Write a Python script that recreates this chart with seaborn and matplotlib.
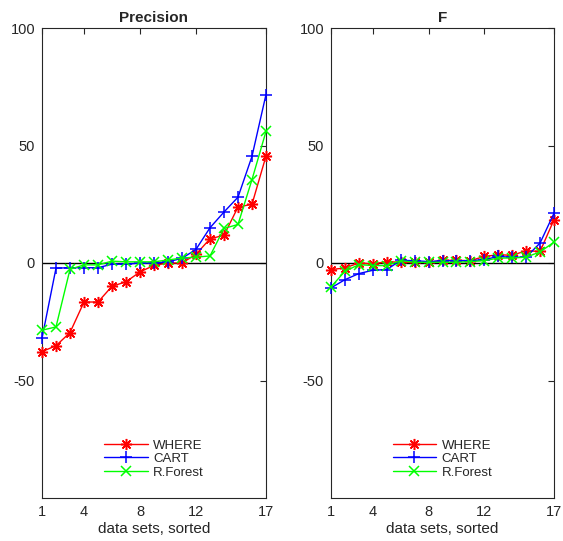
import numpy as np
import pandas as pd
import matplotlib
matplotlib.use("Agg")
import matplotlib.pyplot as plt
import seaborn as sns

datasets = list(range(1, 18))
xticks = [1, 4, 8, 12, 17]
yticks = [-50, 0, 50, 100]
learners = ["WHERE", "CART", "R.Forest"]

prec_where = [-37.7, -35.2, -29.6, -16.6, -16.6, -9.9, -8.0, -3.8, -1.0, 0.0, 0.0, 3.7, 10.3, 11.8, 23.8, 25.0, 45.5]
prec_cart = [-32.0, -2.2, -2.0, -2.0, -2.0, -0.5, -0.5, 0.0, 0.0, 0.5, 2.0, 5.8, 15.0, 21.7, 28.0, 45.4, 71.7]
prec_rf = [-28.6, -27.2, -2.7, -0.8, -0.8, 0.8, 0.5, 0.5, 0.5, 1.3, 2.1, 2.5, 3.0, 14.7, 16.4, 35.5, 56.0]

f_where = [-2.8, -2.1, 0.0, -0.4, 0.6, 0.3, 0.3, 0.3, 1.1, 1.1, 1.0, 2.8, 3.5, 3.3, 5.2, 4.9, 18.4]
f_cart = [-10.6, -7.1, -4.5, -3.1, -2.8, 1.1, 1.0, 0.6, 1.0, 1.0, 1.0, 1.4, 2.8, 2.4, 2.5, 8.5, 21.2]
f_rf = [-10.2, -3.5, -0.7, -1.1, -1.1, 1.0, 0.3, 0.3, 0.3, 0.3, 0.6, 1.0, 2.1, 2.1, 2.5, 4.7, 8.9]

colors = {"WHERE": "#ff0000", "CART": "#0000ff", "R.Forest": "#00ff00"}
markers = {"WHERE": (8, 2, 0), "CART": "+", "R.Forest": "x"}
msizes = {"WHERE": 8, "CART": 9, "R.Forest": 6.5}

sns.set_theme(style="white")
plt.rcParams["font.family"] = ["Liberation Sans", "DejaVu Sans"]
plt.rcParams["axes.unicode_minus"] = False

fig = plt.figure(figsize=(5.63, 5.41), dpi=100)
ax1 = fig.add_axes([42 / 563, 43 / 541, 224 / 563, 470 / 541])
ax2 = fig.add_axes([331 / 563, 43 / 541, 223 / 563, 470 / 541])

panels = [
    (ax1, "Precision", {"WHERE": prec_where, "CART": prec_cart, "R.Forest": prec_rf}),
    (ax2, "F", {"WHERE": f_where, "CART": f_cart, "R.Forest": f_rf}),
]

for ax, title, series in panels:
    ax.axhline(0, color="black", lw=1.0, zorder=1)
    for name in learners:
        df = pd.DataFrame({"x": datasets, "y": series[name]})
        sns.lineplot(data=df, x="x", y="y", ax=ax, color=colors[name],
                     marker=markers[name], markersize=msizes[name],
                     markeredgewidth=1.1, markeredgecolor=colors[name],
                     lw=1.0, label=name, zorder=3)
    for ln in ax.lines[1:]:
        ln.set_clip_on(False)
    ax.set_xlim(1, 17)
    ax.set_ylim(-100, 100)
    ax.set_xticks(xticks)
    ax.set_yticks(yticks)
    ax.set_xlabel("data sets, sorted", fontsize=11, color="#262626", labelpad=2)
    ax.set_ylabel("")
    ax.set_title(title, fontsize=11, fontweight="bold", pad=4)
    ax.tick_params(direction="in", length=4, width=0.8, top=True, right=True,
                   labelsize=10.5, colors="#262626", pad=5)
    for s in ax.spines.values():
        s.set_color("#262626")
        s.set_linewidth(0.8)
    ax.legend(loc="lower center", bbox_to_anchor=(0.5, 0.03), frameon=False,
              fontsize=9.5, handlelength=3.3, handletextpad=0.4,
              labelspacing=0.1, borderaxespad=0)

fig.savefig("out.png", dpi=100)
